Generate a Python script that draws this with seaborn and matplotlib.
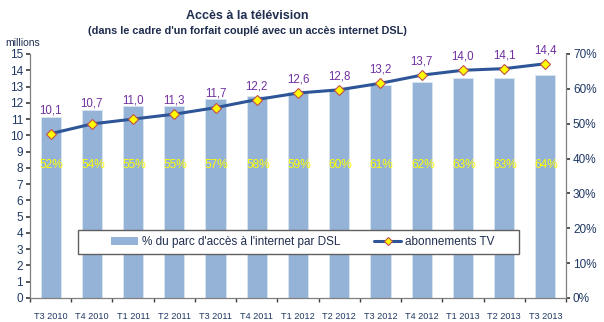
import matplotlib
matplotlib.use("Agg")
import matplotlib.pyplot as plt
import seaborn as sns
import pandas as pd
import numpy as np
from matplotlib.lines import Line2D
from matplotlib.patches import Patch, Rectangle

periods = ["T3 2010", "T4 2010", "T1 2011", "T2 2011", "T3 2011", "T4 2011", "T1 2012",
           "T2 2012", "T3 2012", "T4 2012", "T1 2013", "T2 2013", "T3 2013"]
tv_millions = [10.1, 10.7, 11.0, 11.3, 11.7, 12.2, 12.6, 12.8, 13.2, 13.7, 14.0, 14.1, 14.4]
pct_dsl = [52, 54, 55, 55, 57, 58, 59, 60, 61, 62, 63, 63, 64]
tv_labels = ["10,1", "10,7", "11,0", "11,3", "11,7", "12,2", "12,6", "12,8", "13,2", "13,7", "14,0", "14,1", "14,4"]
pct_labels = [f"{v}%" for v in pct_dsl]

df = pd.DataFrame({"periode": periods, "tv": tv_millions, "pct": pct_dsl})

sns.set_theme(style="white")
plt.rcParams['font.family'] = ['Liberation Sans', 'DejaVu Sans']

fig = plt.figure(figsize=(6.04, 3.22), dpi=100)
ax = fig.add_axes([30/604, 24/322, 536/604, 244/322])
ax2 = ax.twinx()

bar_col = "#95B3D7"
line_col = "#2E5597"
tick_col = "#1F3864"

sns.barplot(data=df, x="periode", y="pct", ax=ax2, color=bar_col, width=0.49,
            saturation=1, edgecolor="#DCE6F2", linewidth=0.6)
sns.lineplot(data=df, x="periode", y="tv", ax=ax, color=line_col, linewidth=2.2,
             marker="D", markersize=5, markerfacecolor="#FFFF00",
             markeredgecolor="#C0504D", markeredgewidth=0.8, sort=False)

ax.set_zorder(ax2.get_zorder() + 1)
ax.patch.set_visible(False)

ax.set_ylim(0, 15)
ax2.set_ylim(0, 70)
ax.set_xlim(-0.5, len(periods) - 0.5)
ax.set_yticks(range(0, 16))
ax2.set_yticks(range(0, 71, 10))
ax2.set_yticklabels([f"{v}%" for v in range(0, 71, 10)])
ax.set_xticks(range(len(periods)))
ax.set_xticklabels(periods)
ax.set_xticks(np.arange(-0.5, len(periods), 1), minor=True)
ax.set_xlabel("")
ax.set_ylabel("")
ax2.set_ylabel("")

for a in (ax, ax2):
    for s in a.spines.values():
        s.set_visible(False)
ax.spines["left"].set_visible(True)
ax.spines["bottom"].set_visible(True)
ax2.spines["right"].set_visible(True)
for s in (ax.spines["left"], ax.spines["bottom"], ax2.spines["right"]):
    s.set_color("#808080")
    s.set_linewidth(0.9)

ax.tick_params(axis="y", which="major", left=True, length=3, color="#404040",
               labelsize=8.5, labelcolor=tick_col, pad=2)
ax.tick_params(axis="x", which="major", bottom=False, labelsize=6.6, labelcolor=tick_col, pad=4)
ax.tick_params(axis="x", which="minor", bottom=True, length=3, color="#404040")
ax2.tick_params(axis="y", right=True, length=3, color="#404040",
                labelsize=8.5, labelcolor=tick_col, pad=2)

# value labels
for i in range(len(periods)):
    bar_eq = pct_dsl[i] * 15 / 70
    ytop = max(bar_eq, tv_millions[i] + 0.45)
    ax.text(i, ytop, tv_labels[i], ha="center", va="bottom", fontsize=8.3,
            color="#7030A0")
    ax.text(i + 0.03, 8.15, pct_labels[i], ha="center", va="center", fontsize=8.6,
            color="#FFFF00")

# legend frame drawn in axes coordinates
frame = Rectangle(((78 - 30) / 536, (298 - 254) / 244), (519 - 78) / 536, 24 / 244,
                  transform=ax.transAxes, facecolor="white", edgecolor="#606060",
                  linewidth=1.0, zorder=5)
ax.add_patch(frame)

handles = [Patch(facecolor=bar_col, edgecolor="none"),
           Line2D([0], [0], color=line_col, linewidth=2.2, marker="D", markersize=4,
                  markerfacecolor="#FFFF00", markeredgecolor="#C0504D", markeredgewidth=0.8)]
leg = ax.legend(handles, ["% du parc d'accès à l'internet par DSL", "abonnements TV"],
                ncol=2, loc="center left", bbox_to_anchor=((111 - 30) / 536, (298 - 242) / 244),
                fontsize=8.5, frameon=False, borderpad=0, borderaxespad=0,
                handlelength=2.3, handletextpad=0.3, columnspacing=2.9,
                labelcolor="#1F2D4F")
leg.set_zorder(6)

fig.text(247/604, 1 - 16/322, "Accès à la télévision", ha="center", va="center",
         fontsize=9, fontweight="bold", color="#1F2D4F")
fig.text(247/604, 1 - 31/322, "(dans le cadre d'un forfait couplé avec un accès internet DSL)",
         ha="center", va="center", fontsize=7.8, fontweight="bold", color="#1F2D4F")
fig.text(5/604, 1 - 43/322, "millions", ha="left", va="center", fontsize=7.5, color="#1F2D4F")

fig.savefig("out.png", dpi=100)
